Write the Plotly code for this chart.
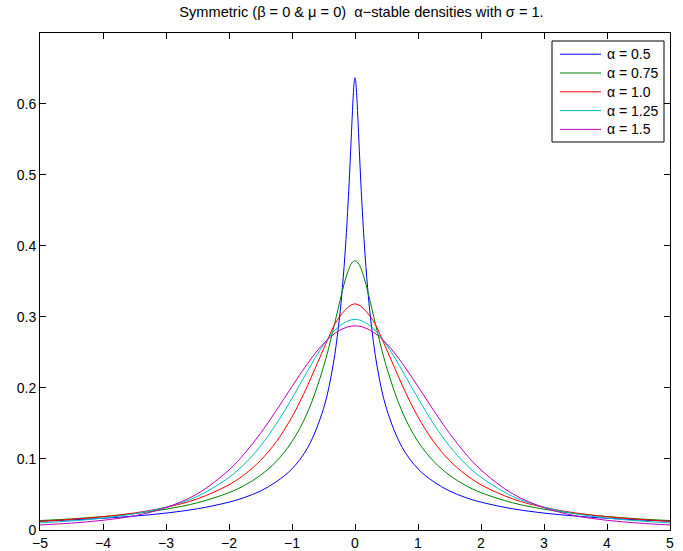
import plotly.graph_objects as go

# ---- data ----
x_a050 = [-5, -4.5, -4, -3.5, -3, -2.5, -2, -1.75, -1.5, -1.25, -1, -0.75, -0.5, -0.35, -0.25, -0.2,
          -0.15, -0.1, -0.075, -0.05, -0.03, -0.02, -0.01, 0, 0.01, 0.02, 0.03, 0.05, 0.075, 0.1,
          0.15, 0.2, 0.25, 0.35, 0.5, 0.75, 1, 1.25, 1.5, 1.75, 2, 2.5, 3, 3.5, 4, 4.5, 5]
y_a050 = [0.0124, 0.0142, 0.0165, 0.0196, 0.0238, 0.0299, 0.0392, 0.0459, 0.0549, 0.0679, 0.0861,
          0.1161, 0.1708, 0.2308, 0.2956, 0.3411, 0.3998, 0.4764, 0.5222, 0.5711, 0.6077, 0.6226,
          0.6329, 0.6366, 0.6329, 0.6226, 0.6077, 0.5711, 0.5222, 0.4764, 0.3998, 0.3411, 0.2956,
          0.2308, 0.1708, 0.1161, 0.0861, 0.0679, 0.0549, 0.0459, 0.0392, 0.0299, 0.0238, 0.0196,
          0.0165, 0.0142, 0.0124]

x_a075 = [-5, -4.5, -4, -3.5, -3, -2.5, -2, -1.75, -1.5, -1.25, -1, -0.75, -0.5, -0.35, -0.25, -0.2,
          -0.15, -0.1, -0.05, 0, 0.05, 0.1, 0.15, 0.2, 0.25, 0.35, 0.5, 0.75, 1, 1.25, 1.5, 1.75,
          2, 2.5, 3, 3.5, 4, 4.5, 5]
y_a075 = [0.0133, 0.0157, 0.0189, 0.0232, 0.0293, 0.0384, 0.0526, 0.0630, 0.0771, 0.0965, 0.1245,
          0.1662, 0.2296, 0.2807, 0.3184, 0.3367, 0.3534, 0.3669, 0.3759, 0.3790, 0.3759, 0.3669,
          0.3534, 0.3367, 0.3184, 0.2807, 0.2296, 0.1662, 0.1245, 0.0965, 0.0771, 0.0630, 0.0526,
          0.0384, 0.0293, 0.0232, 0.0189, 0.0157, 0.0133]

x_common = [-5, -4.5, -4, -3.5, -3, -2.5, -2, -1.75, -1.5, -1.25, -1, -0.75, -0.5, -0.25, 0,
            0.25, 0.5, 0.75, 1, 1.25, 1.5, 1.75, 2, 2.5, 3, 3.5, 4, 4.5, 5]
y_a100 = [0.0122, 0.0150, 0.0187, 0.0240, 0.0318, 0.0439, 0.0637, 0.0784, 0.0979, 0.1242, 0.1592,
          0.2037, 0.2546, 0.2996, 0.3183, 0.2996, 0.2546, 0.2037, 0.1592, 0.1242, 0.0979, 0.0784,
          0.0637, 0.0439, 0.0318, 0.0240, 0.0187, 0.0150, 0.0122]
y_a125 = [0.0100, 0.0128, 0.0168, 0.0228, 0.0322, 0.0474, 0.0742, 0.0933, 0.1182, 0.1491, 0.1854,
          0.2243, 0.2606, 0.2868, 0.2965, 0.2868, 0.2606, 0.2243, 0.1854, 0.1491, 0.1182, 0.0933,
          0.0742, 0.0474, 0.0322, 0.0228, 0.0168, 0.0128, 0.0100]
y_a150 = [0.0071, 0.0097, 0.0137, 0.0200, 0.0315, 0.0511, 0.0845, 0.1080, 0.1361, 0.1681, 0.2020,
          0.2347, 0.2623, 0.2808, 0.2874, 0.2808, 0.2623, 0.2347, 0.2020, 0.1681, 0.1361, 0.1080,
          0.0845, 0.0511, 0.0315, 0.0200, 0.0137, 0.0097, 0.0071]

series_names = ["α = 0.5", "α = 0.75", "α = 1.0", "α = 1.25", "α = 1.5"]
series_colors = ["#0000ff", "#008000", "#ff0000", "#00bfbf", "#bf00bf"]
x_ticks = [-5, -4, -3, -2, -1, 0, 1, 2, 3, 4, 5]
y_ticks = [0, 0.1, 0.2, 0.3, 0.4, 0.5, 0.6]
title_text = "Symmetric (β = 0 & μ = 0)  α−stable densities with σ = 1."

xs = [x_a050, x_a075, x_common, x_common, x_common]
ys = [y_a050, y_a075, y_a100, y_a125, y_a150]

FONT = "Liberation Sans, Arial, Helvetica, sans-serif"
W, H = 683, 551
ML, MR, MT, MB = 40, 13, 33, 21
PW, PH = W - ML - MR, H - MT - MB


def px_x(px):  # figure pixel -> paper x
    return (px - ML) / PW


def px_y(py):  # figure pixel -> paper y
    return (H - MB - py) / PH


fig = go.Figure()
for name, col, xv, yv in zip(series_names, series_colors, xs, ys):
    fig.add_trace(go.Scatter(x=xv, y=yv, mode="lines", name=name, showlegend=False,
                             hoverinfo="skip",
                             line=dict(color=col, width=1, shape="spline", smoothing=1)))

axis_common = dict(showline=True, linecolor="black", linewidth=1, mirror="ticks",
                   ticks="inside", ticklen=6, tickwidth=1, tickcolor="black",
                   showgrid=False, zeroline=False,
                   tickfont=dict(family=FONT, size=14, color="black"))

fig.update_xaxes(range=[-5, 5], tickvals=x_ticks, **axis_common)
fig.update_yaxes(range=[0, 0.6996], tickvals=y_ticks, **axis_common)

# ---- legend box (MATLAB style) built from the series lists ----
LEG_L, LEG_R, LEG_T, LEG_B = 552, 664, 41, 142
ROW0, ROW_STEP = 54.2, 18.8
LINE_X0, LINE_X1, TEXT_X = 560, 601, 605

shapes = [dict(type="rect", xref="paper", yref="paper",
               x0=px_x(LEG_L), x1=px_x(LEG_R), y0=px_y(LEG_B), y1=px_y(LEG_T),
               line=dict(color="black", width=1), fillcolor="white", layer="above")]
annotations = []
for i, (name, col) in enumerate(zip(series_names, series_colors)):
    ry = ROW0 + i * ROW_STEP
    shapes.append(dict(type="line", xref="paper", yref="paper",
                       x0=px_x(LINE_X0), x1=px_x(LINE_X1), y0=px_y(ry), y1=px_y(ry),
                       line=dict(color=col, width=1), layer="above"))
    annotations.append(dict(text=name, xref="paper", yref="paper",
                            x=px_x(TEXT_X), y=px_y(ry), xanchor="left", yanchor="middle",
                            showarrow=False, font=dict(family=FONT, size=14, color="black")))

fig.update_layout(
    width=W, height=H,
    margin=dict(l=ML, r=MR, t=MT, b=MB, pad=0, autoexpand=False),
    paper_bgcolor="white", plot_bgcolor="white",
    font=dict(family=FONT, size=14, color="black"),
    title=dict(text=title_text, x=0.5103, xref="paper", xanchor="center",
               y=1 - 12 / H, yref="container", yanchor="middle",
               font=dict(family=FONT, size=14.6, color="black")),
    shapes=shapes, annotations=annotations,
    showlegend=False, hovermode=False,
)

fig.write_html("out.html", config={"displayModeBar": False, "staticPlot": True},
               post_script="document.body.style.margin='0';document.body.style.padding='0';")
